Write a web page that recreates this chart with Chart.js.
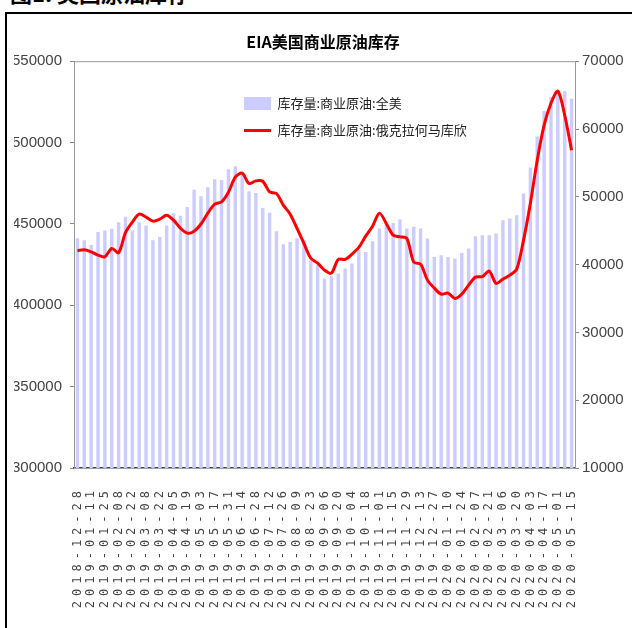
<!DOCTYPE html>
<html>
<head>
<meta charset="utf-8">
<script src="https://cdn.jsdelivr.net/npm/chart.js@4.4.1/dist/chart.umd.min.js"></script>
<style>
  html, body { margin: 0; padding: 0; background: #fff; }
  body { width: 632px; height: 628px; position: relative; overflow: hidden; }
  #head { position: absolute; left: 10px; top: -24px; font: bold 22px "Noto Sans CJK SC"; color: #000; white-space: nowrap; }
  #frame { position: absolute; left: 5px; top: 12px; width: 700px; height: 700px; border-left: 2px solid #000; border-top: 2px solid #000; }
  #chart { position: absolute; left: 0; top: 0; }
</style>
</head>
<body>
<div id="head">图1: 美国原油库存</div>
<div id="frame"></div>
<canvas id="chart" width="632" height="628"></canvas>
<script>
// weekly dates
const dates = [
  "2018-12-28",
  "2019-01-04", "2019-01-11", "2019-01-18", "2019-01-25",
  "2019-02-01", "2019-02-08", "2019-02-15", "2019-02-22",
  "2019-03-01", "2019-03-08", "2019-03-15", "2019-03-22", "2019-03-29",
  "2019-04-05", "2019-04-12", "2019-04-19", "2019-04-26",
  "2019-05-03", "2019-05-10", "2019-05-17", "2019-05-24", "2019-05-31",
  "2019-06-07", "2019-06-14", "2019-06-21", "2019-06-28",
  "2019-07-05", "2019-07-12", "2019-07-19", "2019-07-26",
  "2019-08-02", "2019-08-09", "2019-08-16", "2019-08-23", "2019-08-30",
  "2019-09-06", "2019-09-13", "2019-09-20", "2019-09-27",
  "2019-10-04", "2019-10-11", "2019-10-18", "2019-10-25",
  "2019-11-01", "2019-11-08", "2019-11-15", "2019-11-22", "2019-11-29",
  "2019-12-06", "2019-12-13", "2019-12-20", "2019-12-27",
  "2020-01-03", "2020-01-10", "2020-01-17", "2020-01-24", "2020-01-31",
  "2020-02-07", "2020-02-14", "2020-02-21", "2020-02-28",
  "2020-03-06", "2020-03-13", "2020-03-20", "2020-03-27",
  "2020-04-03", "2020-04-10", "2020-04-17", "2020-04-24",
  "2020-05-01", "2020-05-08", "2020-05-15"
];

// 库存量:商业原油:全美 (left axis)
const usStocks = [
  441200, 440000, 437000, 445000, 446000, 447000, 451000, 454400, 446000, 451000,
  449000, 440000, 442000, 449000, 456600, 455000, 460400, 471000, 467000, 472500,
  477400, 477000, 483600, 485400, 481100, 470100, 469000, 459800, 456800, 445500,
  437500, 438900, 441200, 440000, 427700, 424600, 416500, 417900, 419500, 422600,
  425700, 433900, 432800, 439400, 447200, 450200, 450600, 452700, 447200, 448200,
  447200, 441000, 429700, 430800, 429700, 428700, 432200, 434900, 442400, 443000,
  443000, 444100, 452300, 453300, 455300, 468700, 484600, 503800, 519400, 528000,
  532500, 531700, 527000
];

// 库存量:商业原油:俄克拉何马库欣 (right axis)
const cushingStocks = [
  42060, 42200, 41880, 41400, 41150, 42380, 41760, 44710, 46260, 47440,
  47000, 46410, 46700, 47290, 46560, 45380, 44640, 44930, 45990, 47590,
  48910, 49250, 50680, 52890, 53480, 51960, 52350, 52300, 50730, 50490,
  48770, 47440, 45330, 43120, 40950, 40220, 39190, 38740, 40760, 40760,
  41540, 42530, 44200, 45670, 47590, 46070, 44340, 44090, 43860, 40360,
  40070, 37710, 36530, 35650, 35800, 35010, 35650, 36980, 38150, 38230,
  39040, 37230, 37860, 38450, 39330, 43610, 49060, 55400, 60560, 63800,
  65570, 62030, 56870
];

const leftMin = 300000, leftMax = 550000, leftStep = 50000;
const rightMin = 10000, rightMax = 70000, rightStep = 10000;

const numFont = { family: "'Liberation Sans', Arial, sans-serif", size: 15 };
const cjk = "'Noto Sans CJK SC', sans-serif";

// box around plot area (top edge)
const plotFrame = {
  id: 'plotFrame',
  afterDraw(chart) {
    const { ctx, chartArea: a } = chart;
    ctx.save();
    ctx.strokeStyle = '#999';
    ctx.lineWidth = 1;
    ctx.beginPath();
    ctx.moveTo(a.left, a.top + 0.5);
    ctx.lineTo(a.right, a.top + 0.5);
    ctx.stroke();
    ctx.restore();
  }
};

// legend sits inside the plot, a bit right of the left axis
const moveLegend = {
  id: 'moveLegend',
  afterLayout(chart) {
    const lg = chart.legend;
    lg.left = 230;
    lg.top = 83;
    lg.right = lg.left + lg.width;
    lg.bottom = lg.top + lg.height;
  }
};

// spaced out date labels like the original
const spacedLabels = {
  id: 'spacedLabels',
  afterUpdate(chart) {
    const xs = chart.scales.x;
    if (xs._spaced) return;
    const draw = xs.drawLabels;
    xs.drawLabels = function (area) {
      this.ctx.save();
      this.ctx.letterSpacing = '5px';
      draw.call(this, area);
      this.ctx.restore();
    };
    xs._spaced = true;
  }
};

new Chart(document.getElementById('chart'), {
  type: 'bar',
  data: {
    labels: dates,
    datasets: [
      {
        label: '库存量:商业原油:全美',
        data: usStocks,
        yAxisID: 'y',
        backgroundColor: '#ccccff',
        borderWidth: 0,
        barPercentage: 0.5,
        categoryPercentage: 1.0,
        order: 1
      },
      {
        type: 'line',
        label: '库存量:商业原油:俄克拉何马库欣',
        data: cushingStocks,
        yAxisID: 'y2',
        borderColor: '#ff0000',
        backgroundColor: '#ff0000',
        borderWidth: 3,
        pointRadius: 0,
        tension: 0.3,
        fill: false,
        order: 0
      }
    ]
  },
  options: {
    responsive: false,
    animation: false,
    layout: { padding: { left: 14, top: 32, right: 0, bottom: 0 } },
    plugins: {
      title: {
        display: true,
        text: 'EIA美国商业原油库存',
        color: '#000',
        font: { family: cjk, size: 16, weight: 'bold' },
        padding: { top: 0, bottom: 10 }
      },
      legend: {
        position: 'chartArea',
        align: 'start',
        labels: {
          color: '#222',
          font: { family: cjk, size: 13 },
          boxWidth: 27,
          boxHeight: 13,
          padding: 14,
          usePointStyle: true,
          pointStyleWidth: 27,
          sort: (a, b) => a.datasetIndex - b.datasetIndex,
          generateLabels(chart) {
            const items = Chart.defaults.plugins.legend.labels.generateLabels(chart);
            items.forEach(it => {
              it.pointStyle = it.datasetIndex === 0 ? 'rect' : 'line';
            });
            return items;
          }
        }
      },
      tooltip: { enabled: false }
    },
    scales: {
      x: {
        grid: { display: false, drawTicks: false },
        border: { color: '#444', width: 1.5 },
        ticks: {
          autoSkip: false,
          maxRotation: 90,
          minRotation: 90,
          padding: 18,
          color: '#444',
          font: { family: "'DejaVu Sans Mono', monospace", size: 12 },
          callback: (v, i) => (i % 2 === 0 ? dates[i] : '')
        },
        afterFit: s => { s.height = 160; }
      },
      y: {
        position: 'left',
        min: leftMin,
        max: leftMax,
        grid: { drawOnChartArea: false, tickLength: 4, color: '#888' },
        border: { color: '#999' },
        ticks: { stepSize: leftStep, padding: 8, color: '#444', font: numFont, callback: v => String(v) },
        afterFit: s => { s.width = 60; }
      },
      y2: {
        position: 'right',
        min: rightMin,
        max: rightMax,
        grid: { drawOnChartArea: false, tickLength: 4, color: '#888' },
        border: { color: '#999' },
        ticks: { stepSize: rightStep, padding: 3, color: '#444', font: numFont, callback: v => String(v) },
        afterFit: s => { s.width = 57; }
      }
    }
  },
  plugins: [plotFrame, moveLegend, spacedLabels]
});
</script>
</body>
</html>
